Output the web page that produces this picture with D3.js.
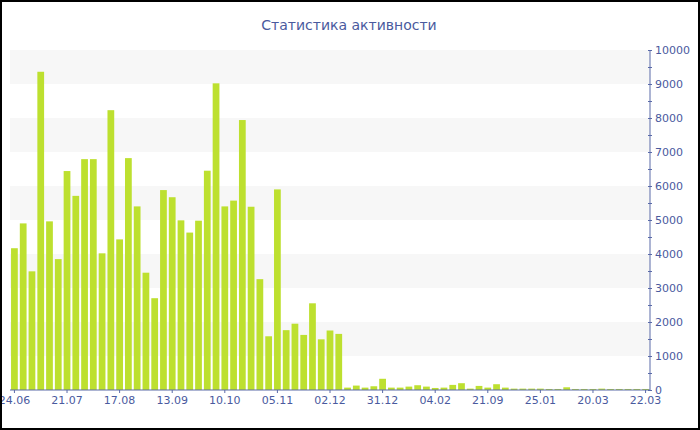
<!DOCTYPE html>
<html><head><meta charset="utf-8">
<script src="https://cdn.jsdelivr.net/npm/d3@7"></script>
<style>html,body{margin:0;padding:0;background:#fff;}svg{display:block;}</style>
</head><body>
<svg id="chart" width="700" height="430"></svg>
<script>
const title = "Статистика активности";
const values = [
  4170, 4900, 3490, 9360, 4960, 3850, 6440, 5710, 6790, 6790,
  4020, 8230, 4430, 6820, 5400, 3450, 2700, 5880, 5670, 4990,
  4630, 4980, 6450, 9020, 5400, 5570, 7940, 5390, 3260, 1580,
  5900, 1760, 1950, 1620, 2550, 1490, 1750, 1650, 70, 130,
  70, 110, 330, 70, 70, 100, 140, 100, 60, 70,
  150, 200, 40, 120, 70, 170, 70, 40, 40, 40,
  40, 30, 30, 80, 30, 30, 30, 40, 30, 30,
  30, 30, 30
];
const tickLabels = ["24.06","21.07","17.08","13.09","10.10","05.11","02.12","31.12","04.02","21.09","25.01","20.03","22.03"];
const tickEvery = 6;
const yTicks = [0,1000,2000,3000,4000,5000,6000,7000,8000,9000,10000];

(function(){
const svg = d3.select("#chart");
const W = 700, H = 430;
const pLeft = 10, pRight = 650, pTop = 50, pBottom = 390;
const textColor = "#4a5a9e", axisColor = "#5a6aa8", barColor = "#bde02f";
const font = "DejaVu Sans, Verdana, sans-serif";

svg.append("rect").attr("x",1).attr("y",1).attr("width",W-2).attr("height",H-2)
  .attr("fill","#fff");

const x = d3.scaleBand().domain(d3.range(values.length)).range([pLeft,pRight]).paddingInner(0.23).paddingOuter(0.12);
const y = d3.scaleLinear().domain([0,10000]).range([pBottom,pTop]);

const bands = yTicks.slice(0,-1).filter((d,i)=> i%2===1);
svg.append("g").selectAll("rect").data(bands).join("rect")
  .attr("x",pLeft).attr("width",pRight-pLeft)
  .attr("y",d=>y(d+1000)).attr("height",d=>y(d)-y(d+1000))
  .attr("fill","#f7f7f7");

svg.append("g").selectAll("rect").data(values).join("rect")
  .attr("x",(d,i)=>x(i)).attr("width",x.bandwidth())
  .attr("y",d=>y(d)).attr("height",d=>pBottom-y(d))
  .attr("fill",barColor);

const yAxis = d3.axisRight(y).tickValues(d3.range(0,10001,500)).tickSize(3)
  .tickFormat(d=> d%1000===0 ? d : "");
const gy = svg.append("g").attr("transform",`translate(${pRight},0)`).call(yAxis);
gy.select(".domain").attr("stroke",axisColor).attr("d",`M0,${pTop}V${pBottom}`);
gy.selectAll(".tick line").attr("stroke",axisColor).attr("x1",-2).attr("x2",2);
gy.selectAll(".tick text").attr("fill",textColor).attr("x",5)
  .style("font-family",font).style("font-size","11px");

const tickIdx = tickLabels.map((t,k)=>k*tickEvery);
const xAxis = d3.axisBottom(x).tickValues(tickIdx).tickSize(3)
  .tickFormat(i=> tickLabels[i/tickEvery]);
const gx = svg.append("g").attr("transform",`translate(0,${pBottom})`).call(xAxis);
gx.select(".domain").attr("stroke",axisColor).attr("d",`M${pLeft},0H${pRight}`);
gx.selectAll(".tick line").attr("stroke",axisColor);
gx.selectAll(".tick text").attr("fill",textColor).attr("y",6)
  .style("font-family",font).style("font-size","11px");

svg.append("text").attr("x",349).attr("y",30).attr("text-anchor","middle")
  .attr("fill",textColor).style("font-family",font).style("font-size","14px")
  .text(title);

svg.append("rect").attr("x",1).attr("y",1).attr("width",W-2).attr("height",H-2)
  .attr("fill","none").attr("stroke","#000").attr("stroke-width",2);
})();
</script>
</body></html>
